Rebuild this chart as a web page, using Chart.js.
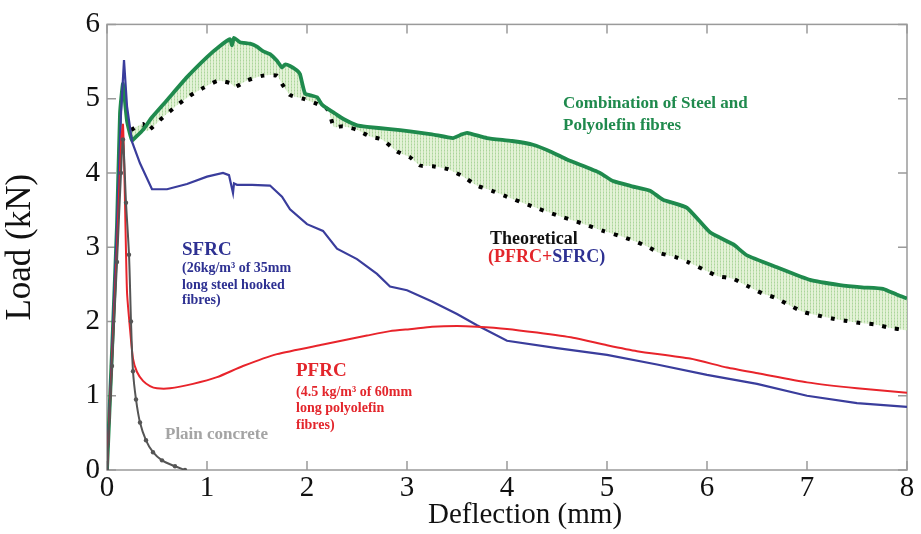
<!DOCTYPE html>
<html>
<head>
<meta charset="utf-8">
<title>Load-deflection curves</title>
<script src="https://cdn.jsdelivr.net/npm/chart.js@4.4.1/dist/chart.umd.min.js"></script>
<style>
    html, body { margin: 0; padding: 0; background: #fff; }
    #wrap { width: 921px; height: 534px; position: relative; }
</style>
</head>
<body>
<div id="wrap"><canvas id="loadChart"></canvas></div>
<script>
// Load-deflection data (deflection in mm, load in kN)
const plainX = [0, 0.05, 0.10, 0.14, 0.16, 0.19, 0.22, 0.24, 0.26, 0.29, 0.33, 0.39, 0.46, 0.55, 0.68, 0.78];
const plainY = [0, 1.4, 2.8, 4.0, 4.45, 3.6, 2.9, 2.0, 1.33, 0.95, 0.64, 0.4, 0.24, 0.13, 0.05, 0];

const pfrcX = [0, 0.05, 0.10, 0.14, 0.16, 0.18, 0.20, 0.23, 0.26, 0.30, 0.36, 0.43, 0.50, 0.63, 0.86, 1.10, 1.36, 1.70, 2.16, 2.60, 2.83, 3.05, 3.25, 3.50, 3.70, 4.00, 4.30, 4.66, 5.00, 5.30, 5.83, 6.20, 6.52, 7.00, 7.50, 8.00];
const pfrcY = [0, 1.5, 3.0, 4.4, 4.65, 3.6, 2.4, 1.9, 1.5, 1.32, 1.2, 1.13, 1.1, 1.1, 1.16, 1.25, 1.4, 1.56, 1.69, 1.81, 1.87, 1.9, 1.93, 1.94, 1.93, 1.9, 1.85, 1.78, 1.68, 1.6, 1.5, 1.38, 1.3, 1.18, 1.1, 1.04];

const sfrcX = [0, 0.05, 0.10, 0.14, 0.17, 0.20, 0.25, 0.33, 0.45, 0.60, 0.80, 1.00, 1.16, 1.22, 1.26, 1.27, 1.30, 1.45, 1.63, 1.75, 1.83, 2.00, 2.16, 2.30, 2.50, 2.70, 2.83, 3.00, 3.25, 3.50, 3.70, 4.00, 4.50, 5.00, 5.50, 6.00, 6.50, 7.00, 7.50, 8.00];
const sfrcY = [0, 1.6, 3.3, 4.8, 5.52, 4.9, 4.42, 4.13, 3.78, 3.78, 3.85, 3.95, 4.0, 3.97, 3.73, 3.86, 3.84, 3.84, 3.83, 3.68, 3.51, 3.31, 3.22, 2.98, 2.84, 2.64, 2.47, 2.42, 2.27, 2.1, 1.95, 1.74, 1.64, 1.55, 1.42, 1.28, 1.16, 1.0, 0.9, 0.85];

const comboX = [0, 0.05, 0.10, 0.13, 0.16, 0.20, 0.25, 0.30, 0.36, 0.45, 0.60, 0.80, 1.00, 1.12, 1.23, 1.25, 1.27, 1.33, 1.43, 1.50, 1.56, 1.63, 1.70, 1.75, 1.78, 1.83, 1.90, 1.93, 1.98, 2.05, 2.10, 2.15, 2.20, 2.28, 2.36, 2.50, 2.60, 2.83, 3.03, 3.25, 3.46, 3.55, 3.60, 3.80, 4.05, 4.26, 4.45, 4.60, 4.93, 5.06, 5.25, 5.43, 5.56, 5.80, 6.03, 6.26, 6.40, 6.70, 7.03, 7.33, 7.55, 7.76, 7.90, 8.00];
const comboY = [0, 1.6, 3.3, 4.8, 5.2, 4.7, 4.44, 4.5, 4.58, 4.75, 4.98, 5.29, 5.56, 5.7, 5.8, 5.72, 5.82, 5.76, 5.74, 5.7, 5.64, 5.6, 5.51, 5.42, 5.46, 5.44, 5.38, 5.33, 5.07, 5.04, 5.02, 4.92, 4.87, 4.8, 4.73, 4.64, 4.62, 4.59, 4.56, 4.52, 4.47, 4.52, 4.54, 4.47, 4.43, 4.38, 4.28, 4.18, 4.0, 3.89, 3.82, 3.76, 3.64, 3.53, 3.2, 3.04, 2.89, 2.73, 2.56, 2.49, 2.46, 2.44, 2.36, 2.31];

const theoX = [0.24, 0.36, 0.40, 0.56, 0.70, 0.83, 0.97, 1.11, 1.23, 1.28, 1.41, 1.56, 1.70, 1.75, 1.83, 1.96, 2.10, 2.21, 2.27, 2.36, 2.50, 2.63, 2.75, 2.90, 3.03, 3.13, 3.26, 3.41, 3.55, 3.70, 3.85, 3.98, 4.25, 4.50, 4.75, 4.96, 5.11, 5.26, 5.40, 5.53, 5.68, 5.81, 5.98, 6.11, 6.25, 6.40, 6.55, 6.68, 6.81, 6.96, 7.11, 7.25, 7.38, 7.53, 7.68, 7.81, 8.00];
const theoY = [4.58, 4.66, 4.56, 4.75, 4.91, 5.04, 5.15, 5.24, 5.21, 5.16, 5.25, 5.31, 5.31, 5.2, 5.05, 5.0, 4.93, 4.85, 4.62, 4.63, 4.58, 4.49, 4.45, 4.29, 4.21, 4.1, 4.09, 4.05, 3.96, 3.83, 3.76, 3.69, 3.55, 3.43, 3.32, 3.22, 3.16, 3.09, 3.01, 2.92, 2.87, 2.8, 2.69, 2.61, 2.58, 2.48, 2.38, 2.32, 2.23, 2.13, 2.08, 2.04, 2.01, 1.98, 1.96, 1.92, 1.88];

const xTicks = [0, 1, 2, 3, 4, 5, 6, 7, 8];
const yTicks = [0, 1, 2, 3, 4, 5, 6];

const SERIF = '"Liberation Serif", "DejaVu Serif", serif';

function toPoints(xs, ys) {
    return xs.map((x, i) => ({ x: x, y: ys[i] }));
}

// light green dotted hatch between measured and theoretical curves
function makeHatch() {
    const c = document.createElement('canvas');
    c.width = 3; c.height = 3;
    const g = c.getContext('2d');
    g.fillStyle = '#e3f2d7';
    g.fillRect(0, 0, 3, 3);
    g.fillStyle = '#c4e2b3';
    g.fillRect(0, 0, 1, 3);
    g.fillStyle = '#a9d49b';
    g.fillRect(0, 0, 1, 1);
    return g.createPattern(c, 'repeat');
}

// box around the plot with inward tick marks on all four sides
const framePlugin = {
    id: 'frame',
    beforeDatasetsDraw(chart) {
        const { ctx, chartArea: a, scales } = chart;
        ctx.save();
        ctx.strokeStyle = '#9a9a9a';
        ctx.lineWidth = 1.5;
        ctx.strokeRect(a.left, a.top, a.right - a.left, a.bottom - a.top);
        ctx.beginPath();
        const len = 9;
        xTicks.forEach(v => {
            const px = scales.x.getPixelForValue(v);
            ctx.moveTo(px, a.bottom); ctx.lineTo(px, a.bottom - len);
            ctx.moveTo(px, a.top); ctx.lineTo(px, a.top + len);
        });
        yTicks.forEach(v => {
            const py = scales.y.getPixelForValue(v);
            ctx.moveTo(a.left, py); ctx.lineTo(a.left + len, py);
            ctx.moveTo(a.right, py); ctx.lineTo(a.right - len, py);
        });
        ctx.stroke();

        // x axis title, set slightly right of centre
        ctx.font = '29px ' + SERIF;
        ctx.fillStyle = '#111';
        ctx.textAlign = 'center';
        ctx.textBaseline = 'middle';
        ctx.fillText('Deflection (mm)', scales.x.getPixelForValue(4.18), a.bottom + 45);
        ctx.restore();
    }
};

// curve labels, placed in data coordinates
const labelPlugin = {
    id: 'curveLabels',
    afterDatasetsDraw(chart) {
        const { ctx, scales } = chart;
        const X = v => scales.x.getPixelForValue(v);
        const Y = v => scales.y.getPixelForValue(v);
        ctx.save();
        ctx.textBaseline = 'middle';
        ctx.textAlign = 'left';

        function line(text, x, y, size, color) {
            ctx.font = 'bold ' + size + 'px ' + SERIF;
            ctx.fillStyle = color;
            ctx.fillText(text, X(x), Y(y));
            return ctx.measureText(text).width;
        }

        line('Combination of Steel and', 4.56, 4.93, 17, '#1f8a4d');
        line('Polyolefin fibres', 4.56, 4.64, 17, '#1f8a4d');

        line('Theoretical', 3.83, 3.11, 18, '#111111');
        let w = line('(PFRC', 3.81, 2.87, 18, '#e3262c');
        w += line('+', 3.81 + w / 100, 2.87, 18, '#e3262c');
        w += line('SFRC', 3.81 + w / 100, 2.87, 18, '#2e3192');
        line(')', 3.81 + w / 100, 2.87, 18, '#2e3192');

        line('SFRC', 0.75, 2.96, 19, '#2e3192');
        line('(26kg/m\u00b3 of 35mm', 0.75, 2.71, 14, '#2e3192');
        line('long steel hooked', 0.75, 2.49, 14, '#2e3192');
        line('fibres)', 0.75, 2.28, 14, '#2e3192');

        line('PFRC', 1.89, 1.33, 19, '#e3262c');
        line('(4.5 kg/m\u00b3 of 60mm', 1.89, 1.04, 14, '#e3262c');
        line('long polyolefin', 1.89, 0.83, 14, '#e3262c');
        line('fibres)', 1.89, 0.60, 14, '#e3262c');

        line('Plain concrete', 0.58, 0.47, 17, '#a4a4a4');
        ctx.restore();
    }
};

const ctx = document.getElementById('loadChart').getContext('2d');
const chart = new Chart(ctx, {
    type: 'line',
    data: {
        datasets: [
            {
                label: 'Plain concrete',
                data: toPoints(plainX, plainY),
                borderColor: '#555555',
                backgroundColor: '#555555',
                borderWidth: 2,
                pointRadius: 2.2,
                pointBorderWidth: 0,
                tension: 0.3
            },
            {
                label: 'PFRC',
                data: toPoints(pfrcX, pfrcY),
                borderColor: '#e8242b',
                borderWidth: 2,
                pointRadius: 0,
                tension: 0.2
            },
            {
                label: 'SFRC',
                data: toPoints(sfrcX, sfrcY),
                borderColor: '#3a3d9c',
                borderWidth: 2.2,
                pointRadius: 0,
                tension: 0
            },
            {
                label: 'Combination of Steel and Polyolefin fibres',
                data: toPoints(comboX, comboY),
                borderColor: '#1f8a4d',
                borderWidth: 3.8,
                pointRadius: 0,
                tension: 0.15
            },
            {
                label: 'Theoretical (PFRC+SFRC)',
                data: toPoints(theoX, theoY),
                borderColor: '#000000',
                borderWidth: 4,
                borderDash: [4, 9],
                borderCapStyle: 'butt',
                pointRadius: 0,
                tension: 0.2,
                fill: { target: 3 },
                backgroundColor: makeHatch()
            }
        ]
    },
    options: {
        responsive: true,
        maintainAspectRatio: false,
        animation: false,
        layout: { padding: { top: 21, right: 14, left: 0, bottom: 0 } },
        plugins: {
            legend: { display: false },
            tooltip: { enabled: false }
        },
        scales: {
            x: {
                type: 'linear',
                min: 0,
                max: 8,
                grid: { display: false, drawTicks: false },
                border: { display: false },
                ticks: {
                    stepSize: 1,
                    padding: 1,
                    color: '#111',
                    font: { family: SERIF, size: 29 }
                },
                afterFit(scale) { scale.height = 64; }
            },
            y: {
                min: 0,
                max: 6,
                grid: { display: false, drawTicks: false },
                border: { display: false },
                ticks: {
                    stepSize: 1,
                    padding: 7,
                    color: '#111',
                    font: { family: SERIF, size: 29 }
                },
                title: {
                    display: true,
                    text: 'Load (kN)',
                    color: '#111',
                    font: { family: SERIF, size: 35 },
                    padding: { top: 0, bottom: 0 }
                },
                afterFit(scale) { scale.width = 107; }
            }
        }
    },
    plugins: [framePlugin, labelPlugin]
});
</script>
</body>
</html>
